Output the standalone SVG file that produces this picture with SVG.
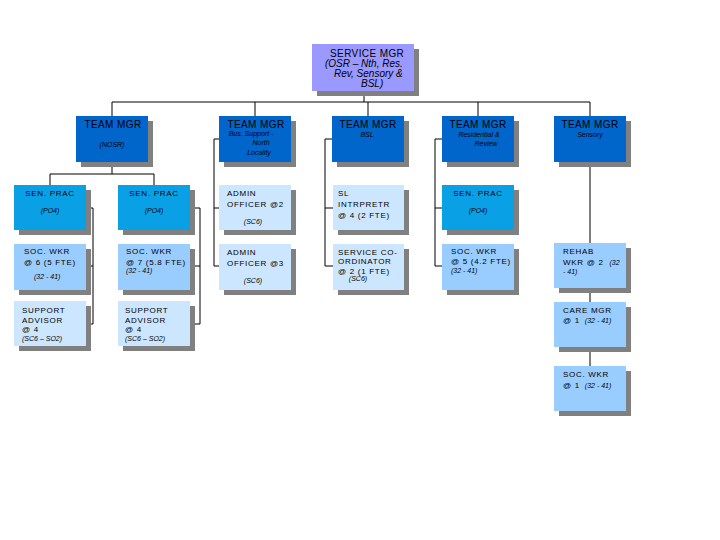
<svg xmlns="http://www.w3.org/2000/svg" width="720" height="540" viewBox="0 0 720 540">
<style>
.sh{fill:#808080}
.top{fill:#9999FF}
.tm{fill:#0066CC}
.sp{fill:#0AA0E6}
.lb{fill:#99CCFF}
.vl{fill:#CCE6FF}
text{font-family:"Liberation Sans",Arial,sans-serif;fill:#000}
.t10{font-size:10px;letter-spacing:0.4px}
.t8{font-size:8px;letter-spacing:0.7px}
.it{font-size:7px;font-style:italic}
.it10{font-size:10px;font-style:italic}
.c{text-anchor:middle}
#conn path{fill:none;stroke:#000;stroke-width:1}
</style>
<rect width="720" height="540" fill="#fff"/>
<g id="conn">
<path d="M364 92V102M112 102H590M112 102V116M255 102V116M368 102V116M478 102V116M590 102V116"/>
<path d="M112 162V174M50 174H154M50 174V185M154 174V185"/>
<path d="M86 208H93V324H86M86 266H93"/>
<path d="M190 208H200V324H190M190 266H200"/>
<path d="M219 139H214V266H219M214 208H219"/>
<path d="M332 139H325V266H333M325 208H333"/>
<path d="M442 139H435V266H442M435 208H442"/>
<path d="M590 162V243M590 288V302M590 347V366"/>
</g>
<g id="n-service">
<rect class="sh" x="317" y="49" width="102" height="47"/>
<rect class="top" x="312" y="44" width="102" height="47"/>
<text class="t10" x="330" y="57">SERVICE MGR</text>
<text class="it10" x="325" y="67">(OSR – Nth, Res.</text>
<text class="it10" x="334" y="77">Rev, Sensory &amp;</text>
<text class="it10" x="361" y="87">BSL)</text>
</g>
<g id="n-tm1">
<rect class="sh" x="81" y="121" width="72" height="46"/>
<rect class="tm" x="76" y="116" width="72" height="46"/>
<text class="t10 c" x="113" y="128">TEAM MGR</text>
<text class="it c" x="112" y="147">(NOSR)</text>
</g>
<g id="n-tm2">
<rect class="sh" x="224" y="121" width="72" height="46"/>
<rect class="tm" x="219" y="116" width="72" height="46"/>
<text class="t10 c" x="256" y="128">TEAM MGR</text>
<text class="it c" x="251" y="136">Bus. Support -</text>
<text class="it c" x="261" y="145">North</text>
<text class="it c" x="259" y="155">Locality</text>
</g>
<g id="n-tm3">
<rect class="sh" x="337" y="121" width="72" height="46"/>
<rect class="tm" x="332" y="116" width="72" height="46"/>
<text class="t10 c" x="368" y="128">TEAM MGR</text>
<text class="it c" x="367" y="137">BSL</text>
</g>
<g id="n-tm4">
<rect class="sh" x="447" y="121" width="72" height="46"/>
<rect class="tm" x="442" y="116" width="72" height="46"/>
<text class="t10 c" x="478" y="128">TEAM MGR</text>
<text class="it c" x="479" y="137">Residential &amp;</text>
<text class="it c" x="486" y="146">Review</text>
</g>
<g id="n-tm5">
<rect class="sh" x="559" y="121" width="72" height="46"/>
<rect class="tm" x="554" y="116" width="72" height="46"/>
<text class="t10 c" x="590" y="128">TEAM MGR</text>
<text class="it c" x="590" y="137">Sensory</text>
</g>
<g id="n-sp1">
<rect class="sh" x="19" y="190" width="72" height="45"/>
<rect class="sp" x="14" y="185" width="72" height="45"/>
<text class="t8 c" x="50" y="196">SEN. PRAC</text>
<text class="it c" x="50" y="213">(PO4)</text>
</g>
<g id="n-sp2">
<rect class="sh" x="123" y="190" width="72" height="45"/>
<rect class="sp" x="118" y="185" width="72" height="45"/>
<text class="t8 c" x="154" y="196">SEN. PRAC</text>
<text class="it c" x="154" y="213">(PO4)</text>
</g>
<g id="n-ao2">
<rect class="sh" x="224" y="190" width="72" height="45"/>
<rect class="vl" x="219" y="185" width="72" height="45"/>
<text class="t8" x="227" y="196">ADMIN</text>
<text class="t8" x="227" y="207">OFFICER @2</text>
<text class="it c" x="253" y="224">(SC6)</text>
</g>
<g id="n-sl">
<rect class="sh" x="338" y="190" width="71" height="45"/>
<rect class="vl" x="333" y="185" width="71" height="45"/>
<text class="t8" x="338" y="196">SL</text>
<text class="t8" x="338" y="207">INTRPRETR</text>
<text class="t8" x="338" y="218">@ 4 (2 FTE)</text>
</g>
<g id="n-sp5">
<rect class="sh" x="447" y="190" width="72" height="45"/>
<rect class="sp" x="442" y="185" width="72" height="45"/>
<text class="t8 c" x="478" y="196">SEN. PRAC</text>
<text class="it c" x="478" y="213">(PO4)</text>
</g>
<g id="n-sw6">
<rect class="sh" x="19" y="249" width="72" height="46"/>
<rect class="lb" x="14" y="244" width="72" height="46"/>
<text class="t8" x="24" y="254">SOC. WKR</text>
<text class="t8" x="24" y="265">@ 6 (5 FTE)</text>
<text class="it" x="34" y="279">(32 - 41)</text>
</g>
<g id="n-sw7">
<rect class="sh" x="123" y="249" width="72" height="46"/>
<rect class="lb" x="118" y="244" width="72" height="46"/>
<text class="t8" x="126" y="254">SOC. WKR</text>
<text class="t8" x="126" y="265">@ 7 (5.8 FTE)</text>
<text class="it" x="126" y="273">(32 - 41)</text>
</g>
<g id="n-ao3">
<rect class="sh" x="224" y="249" width="72" height="46"/>
<rect class="vl" x="219" y="244" width="72" height="46"/>
<text class="t8" x="227" y="255">ADMIN</text>
<text class="t8" x="227" y="266">OFFICER @3</text>
<text class="it c" x="253" y="283">(SC6)</text>
</g>
<g id="n-sc">
<rect class="sh" x="338" y="249" width="71" height="46"/>
<rect class="vl" x="333" y="244" width="71" height="46"/>
<text class="t8" x="338" y="255">SERVICE CO-</text>
<text class="t8" x="338" y="264">ORDINATOR</text>
<text class="t8" x="338" y="274">@ 2 (1 FTE)</text>
<text class="it c" x="358" y="281">(SC6)</text>
</g>
<g id="n-sw5">
<rect class="sh" x="447" y="249" width="72" height="46"/>
<rect class="lb" x="442" y="244" width="72" height="46"/>
<text class="t8" x="451" y="254">SOC. WKR</text>
<text class="t8" x="451" y="264">@ 5 (4.2 FTE)</text>
<text class="it" x="451" y="273">(32 - 41)</text>
</g>
<g id="n-rehab">
<rect class="sh" x="559" y="248" width="72" height="45"/>
<rect class="lb" x="554" y="243" width="72" height="45"/>
<text class="t8" x="563" y="254">REHAB</text>
<text class="t8" x="563" y="265">WKR @ 2 <tspan class="it" dx="3" style="letter-spacing:0">(32</tspan></text>
<text class="it" x="563" y="274">- 41)</text>
</g>
<g id="n-sa1">
<rect class="sh" x="19" y="306" width="72" height="45"/>
<rect class="vl" x="14" y="301" width="72" height="45"/>
<text class="t8" x="22" y="313">SUPPORT</text>
<text class="t8" x="22" y="323">ADVISOR</text>
<text class="t8" x="22" y="332">@ 4</text>
<text class="it" x="22" y="341">(SC6 – SO2)</text>
</g>
<g id="n-sa2">
<rect class="sh" x="123" y="306" width="72" height="45"/>
<rect class="vl" x="118" y="301" width="72" height="45"/>
<text class="t8" x="125" y="313">SUPPORT</text>
<text class="t8" x="125" y="323">ADVISOR</text>
<text class="t8" x="125" y="332">@ 4</text>
<text class="it" x="125" y="341">(SC6 – SO2)</text>
</g>
<g id="n-care">
<rect class="sh" x="559" y="307" width="72" height="45"/>
<rect class="lb" x="554" y="302" width="72" height="45"/>
<text class="t8" x="563" y="313">CARE MGR</text>
<text class="t8" x="563" y="323">@ 1 <tspan class="it" dx="2" style="letter-spacing:0">(32 - 41)</tspan></text>
</g>
<g id="n-sw1">
<rect class="sh" x="559" y="371" width="72" height="45"/>
<rect class="lb" x="554" y="366" width="72" height="45"/>
<text class="t8" x="563" y="377">SOC. WKR</text>
<text class="t8" x="563" y="388">@ 1 <tspan class="it" dx="2" style="letter-spacing:0">(32 - 41)</tspan></text>
</g>
</svg>
